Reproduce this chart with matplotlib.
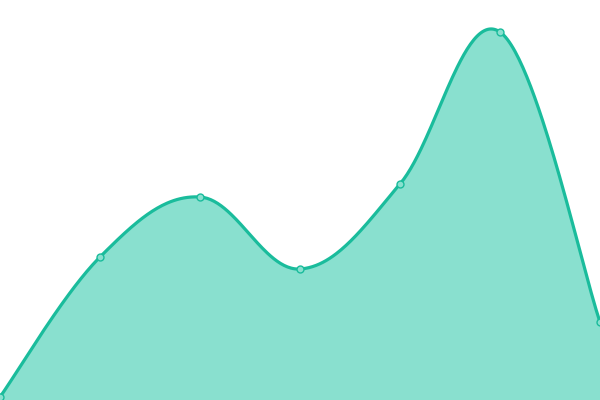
import numpy as np
import matplotlib
matplotlib.use("Agg")
import matplotlib.pyplot as plt

# values (y axis 0..400, no axes shown)
categories = [0, 1, 2, 3, 4, 5, 6]
values = [3, 143, 203, 131, 216, 368, 78]

LINE_COLOR = "#1abc9c"
FILL_COLOR = "#89e0cf"


def smooth_curve(xs, ys, t=0.18, n=60):
    # cardinal spline through the points, drawn as cubic bezier pieces
    xs = np.asarray(xs, dtype=float)
    ys = np.asarray(ys, dtype=float)
    pts = np.column_stack([xs, ys])
    out = []
    for i in range(len(pts) - 1):
        p0 = pts[i]
        p1 = pts[i + 1]
        prev = pts[i - 1] if i > 0 else p0
        nxt = pts[i + 2] if i + 2 < len(pts) else p1
        c1 = p0 + (p1 - prev) * t
        c2 = p1 - (nxt - p0) * t
        s = np.linspace(0, 1, n)[:, None]
        seg = ((1 - s) ** 3) * p0 + 3 * ((1 - s) ** 2) * s * c1 + 3 * (1 - s) * s ** 2 * c2 + s ** 3 * p1
        out.append(seg if i == 0 else seg[1:])
    curve = np.vstack(out)
    return curve[:, 0], curve[:, 1]


cx, cy = smooth_curve(categories, values)

fig = plt.figure(figsize=(6, 4), dpi=100)
ax = fig.add_axes([0, 0, 1, 1])
ax.fill_between(cx, cy, 0, color=FILL_COLOR, linewidth=0)
ax.plot(cx, cy, color=LINE_COLOR, linewidth=2.3, solid_capstyle="round")
ax.plot(categories, values, "o", markersize=5, markerfacecolor=FILL_COLOR,
        markeredgecolor=LINE_COLOR, markeredgewidth=1, clip_on=False)
ax.set_xlim(0, 6)
ax.set_ylim(0, 400)
ax.axis("off")
fig.savefig("out.png", dpi=100)
